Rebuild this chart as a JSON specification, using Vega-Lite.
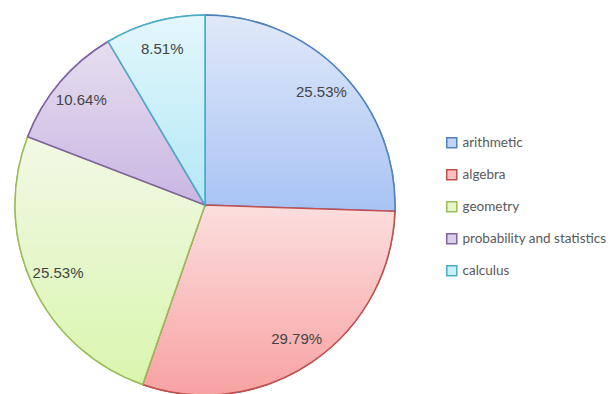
{
  "$schema": "https://vega.github.io/schema/vega-lite/v6.json",
  "width": 610,
  "height": 394,
  "padding": 0,
  "autosize": {"type": "none"},
  "background": "white",
  "config": {"view": {"stroke": null}},
  "data": {
    "values": [
      {"subject": "arithmetic", "share": 0.2553, "rank": 1},
      {"subject": "algebra", "share": 0.2979, "rank": 2},
      {"subject": "geometry", "share": 0.2553, "rank": 3},
      {"subject": "probability and statistics", "share": 0.1064, "rank": 4},
      {"subject": "calculus", "share": 0.0851, "rank": 5}
    ]
  },
  "encoding": {
    "theta": {"field": "share", "type": "quantitative", "stack": true},
    "order": {"field": "rank", "type": "quantitative"}
  },
  "layer": [
    {
      "mark": {"type": "arc", "outerRadius": 190, "x": 205, "y": 205, "strokeWidth": 1.5},
      "encoding": {
        "fill": {
          "field": "subject", "type": "nominal", "sort": null,
          "scale": {
            "domain": ["arithmetic", "algebra", "geometry", "probability and statistics", "calculus"],
            "range": ["#c3d5f7", "#f9c0c0", "#e6f6c9", "#d9cdea", "#cbeff8"]
          },
          "legend": {
            "title": null, "orient": "none", "legendX": 445, "legendY": 136,
            "symbolType": "square", "symbolSize": 100, "symbolStrokeWidth": 1.5,
            "labelFont": "Lato", "labelFontSize": 13.5, "labelColor": "#595959",
            "rowPadding": 15, "labelOffset": 4
          }
        },
        "stroke": {
          "field": "subject", "type": "nominal", "sort": null,
          "scale": {
            "domain": ["arithmetic", "algebra", "geometry", "probability and statistics", "calculus"],
            "range": ["#4f81bd", "#c0504d", "#9bbb59", "#8064a2", "#4bacc6"]
          },
          "legend": {
            "title": null, "orient": "none", "legendX": 445, "legendY": 136,
            "symbolType": "square", "symbolSize": 100, "symbolStrokeWidth": 1.5,
            "labelFont": "Lato", "labelFontSize": 13.5, "labelColor": "#595959",
            "rowPadding": 15, "labelOffset": 4
          }
        }
      }
    },
    {
      "mark": {"type": "arc", "outerRadius": 190, "x": 205, "y": 205, "strokeWidth": 1.5},
      "encoding": {
        "fill": {
          "condition": [
            {"test": "datum.subject === 'arithmetic'", "value": {"gradient": "linear", "x1": 0, "y1": 0, "x2": 0, "y2": 1, "stops": [{"offset": 0, "color": "#e0e9f9"}, {"offset": 1, "color": "#a8c3f4"}]}},
            {"test": "datum.subject === 'algebra'", "value": {"gradient": "linear", "x1": 0, "y1": 0, "x2": 0, "y2": 1, "stops": [{"offset": 0, "color": "#fcdede"}, {"offset": 1, "color": "#f8a2a2"}]}},
            {"test": "datum.subject === 'geometry'", "value": {"gradient": "linear", "x1": 0, "y1": 0, "x2": 0, "y2": 1, "stops": [{"offset": 0, "color": "#f2f8e6"}, {"offset": 1, "color": "#d9f6ae"}]}},
            {"test": "datum.subject === 'probability and statistics'", "value": {"gradient": "linear", "x1": 0, "y1": 0, "x2": 0, "y2": 1, "stops": [{"offset": 0, "color": "#e6def0"}, {"offset": 1, "color": "#c9b6e2"}]}}
          ],
          "value": {"gradient": "linear", "x1": 0, "y1": 0, "x2": 0, "y2": 1, "stops": [{"offset": 0, "color": "#e4f7fc"}, {"offset": 1, "color": "#b2e8f5"}]}
        },
        "stroke": {
          "condition": [
            {"test": "datum.subject === 'arithmetic'", "value": "#4f81bd"},
            {"test": "datum.subject === 'algebra'", "value": "#c0504d"},
            {"test": "datum.subject === 'geometry'", "value": "#9bbb59"},
            {"test": "datum.subject === 'probability and statistics'", "value": "#8064a2"}
          ],
          "value": "#4bacc6"
        }
      }
    },
    {
      "mark": {"type": "text", "radius": 162, "x": 205, "y": 205, "font": "Liberation Sans", "fontSize": 15, "fill": "#444444", "align": "center", "baseline": "middle"},
      "encoding": {
        "text": {"field": "share", "type": "quantitative", "format": ".2%"},
        "detail": {"field": "subject"}
      }
    }
  ]
}
